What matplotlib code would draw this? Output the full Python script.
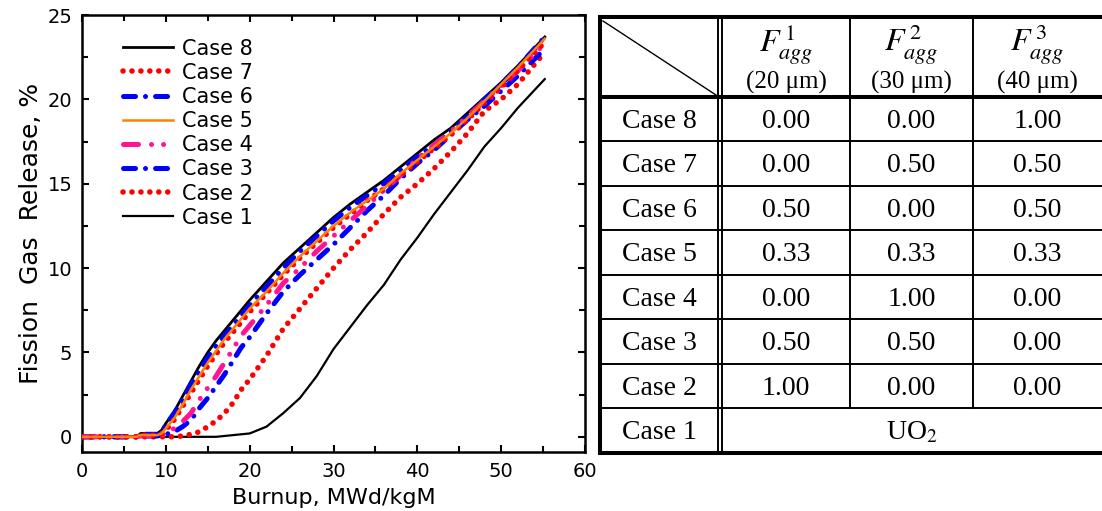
import matplotlib.pyplot as plt
from matplotlib.ticker import MultipleLocator

plt.rcParams['mathtext.fontset'] = 'stix'

# Burnup grid (MWd/kgM) shared by all cases
burnup = [0, 6.5, 7, 9, 9.5, 10, 11, 12, 13, 14, 15, 16, 17, 18, 19, 20,
          22, 24, 26, 28, 30, 32, 34, 36, 38, 40, 42, 44, 46, 48, 50, 52, 55.2]

# Fission gas release, %
case1 = [0, 0, 0, 0, 0, 0, 0, 0, 0, 0, 0, 0, 0.05, 0.1, 0.15, 0.2,
         0.6, 1.4, 2.3, 3.6, 5.2, 6.5, 7.8, 9.0, 10.5, 11.8, 13.2, 14.5, 15.8, 17.2, 18.3, 19.5, 21.2]
case2 = [0, 0, 0, 0, 0, 0, 0, 0.05, 0.15, 0.3, 0.6, 0.95, 1.4, 2.0, 2.8, 3.4,
         4.8, 6.4, 7.6, 8.8, 10.0, 11.1, 12.1, 13.2, 14.2, 15.0, 15.9, 16.9, 18.0, 19.3, 20.0, 20.9, 22.8]
case3 = [0, 0, 0.05, 0.05, 0.1, 0.15, 0.3, 0.6, 1.0, 1.7, 2.3, 3.0, 3.7, 4.5, 5.3, 5.9,
         7.3, 8.6, 9.6, 10.5, 11.4, 12.4, 13.4, 14.3, 15.3, 16.2, 17.0, 17.9, 18.8, 19.6, 20.5, 21.4, 23.0]
case4 = [0, 0, 0.05, 0.05, 0.1, 0.2, 0.5, 0.9, 1.4, 2.2, 2.9, 3.6, 4.4, 5.2, 6.0, 6.6,
         7.8, 9.1, 10.0, 11.0, 11.9, 12.8, 13.7, 14.6, 15.5, 16.5, 17.3, 18.1, 19.0, 19.9, 20.8, 21.7, 23.3]
case5 = [0, 0, 0.1, 0.1, 0.2, 0.5, 1.1, 1.9, 2.8, 3.6, 4.4, 5.1, 5.8, 6.4, 7.0, 7.6,
         8.6, 9.7, 10.7, 11.6, 12.5, 13.3, 14.0, 14.7, 15.6, 16.4, 17.2, 18.0, 18.9, 19.9, 20.9, 21.9, 23.6]
case6 = [0, 0, 0.15, 0.15, 0.3, 0.7, 1.4, 2.2, 3.1, 3.9, 4.7, 5.4, 6.0, 6.6, 7.2, 7.8,
         8.9, 10.0, 11.0, 11.9, 12.8, 13.6, 14.3, 15.0, 15.8, 16.6, 17.3, 18.1, 19.0, 20.0, 20.9, 21.9, 23.7]
case7 = [0, 0, 0.1, 0.1, 0.2, 0.4, 1.0, 1.8, 2.6, 3.4, 4.2, 4.9, 5.6, 6.2, 6.8, 7.4,
         8.5, 9.6, 10.6, 11.5, 12.4, 13.2, 14.0, 14.7, 15.5, 16.3, 17.1, 17.9, 18.8, 19.8, 20.7, 21.7, 23.4]
case8 = [0, 0, 0.2, 0.2, 0.4, 0.8, 1.5, 2.4, 3.3, 4.2, 5.0, 5.7, 6.3, 6.9, 7.5, 8.1,
         9.2, 10.3, 11.2, 12.1, 13.0, 13.8, 14.5, 15.2, 16.0, 16.8, 17.6, 18.3, 19.2, 20.1, 21.0, 22.0, 23.7]

# Table contents
row_labels = ["Case 8", "Case 7", "Case 6", "Case 5", "Case 4", "Case 3", "Case 2"]
f_agg1 = [0.00, 0.00, 0.50, 0.33, 0.00, 0.50, 1.00]
f_agg2 = [0.00, 0.50, 0.00, 0.33, 1.00, 0.50, 0.00]
f_agg3 = [1.00, 0.50, 0.50, 0.33, 0.00, 0.00, 0.00]
col_heads = [r"$F^{\,1}_{agg}$", r"$F^{\,2}_{agg}$", r"$F^{\,3}_{agg}$"]
col_sizes = ["(20 μm)", "(30 μm)", "(40 μm)"]

red_dots = dict(color='red', lw=4, ls=(0, (0.01, 1.6)), dash_capstyle='round')
blue_dd = dict(color='blue', lw=3.6, ls=(0, (2.4, 2, 0.01, 2)), dash_capstyle='round')
pink_ddd = dict(color='#ff1493', lw=3.6, ls=(0, (3, 2.6, 0.01, 2.4, 0.01, 2.6)), dash_capstyle='round')

fig = plt.figure(figsize=(11.02, 5.11), dpi=100)
ax = fig.add_axes([82/1102, 59/511, 503/1102, 437/511])

l1, = ax.plot(burnup, case1, color='black', lw=1.6, zorder=2)
l2, = ax.plot(burnup, case2, **red_dots, zorder=3)
l3, = ax.plot(burnup, case3, **blue_dd, zorder=3)
l4, = ax.plot(burnup, case4, **pink_ddd, zorder=4)
l8, = ax.plot(burnup, case8, color='black', lw=2, zorder=2)
l6, = ax.plot(burnup, case6, **blue_dd, zorder=3)
l7, = ax.plot(burnup, case7, **red_dots, zorder=4)
l5, = ax.plot(burnup, case5, color='#ff8000', lw=1.8, zorder=5)

ax.legend([l8, l7, l6, l5, l4, l3, l2, l1],
          ["Case 8", "Case 7", "Case 6", "Case 5", "Case 4", "Case 3", "Case 2", "Case 1"],
          loc='upper left', bbox_to_anchor=(0.06, 0.97), frameon=False, fontsize=15,
          borderpad=0, handlelength=2.4, handletextpad=0.45, labelspacing=0.2)

ax.set_xlim(0, 60)
ax.set_ylim(-0.9, 25)
ax.xaxis.set_major_locator(MultipleLocator(10))
ax.xaxis.set_minor_locator(MultipleLocator(5))
ax.yaxis.set_major_locator(MultipleLocator(5))
ax.yaxis.set_minor_locator(MultipleLocator(2.5))
ax.tick_params(which='both', direction='in', top=True, right=True, width=1.5, labelsize=14, pad=7)
ax.tick_params(which='major', length=5)
ax.tick_params(which='minor', length=4)
for s in ax.spines.values():
    s.set_linewidth(1.8)
ax.set_xlabel("Burnup, MWd/kgM", fontsize=16, labelpad=5)
ax.set_ylabel("Fission  Gas  Release, %", fontsize=18, labelpad=3)

# Table drawn in pixel coordinates over the whole figure
tax = fig.add_axes([0, 0, 1, 1])
tax.set_xlim(0, 1102)
tax.set_ylim(511, 0)
tax.axis('off')

x0, xc1a, xc1b, xc2, xc3, x4 = 600, 718, 722, 850, 973, 1104
top, head_bot, row_h = 17, 97, 44.5
bottom = head_bot + row_h * 8
thick, thin = 2.9, 1.4

tax.plot([x0, x4], [top, top], color='black', lw=thick, solid_capstyle='projecting')
tax.plot([x0, x4], [bottom, bottom], color='black', lw=thick, solid_capstyle='projecting')
tax.plot([x0, x0], [top, bottom], color='black', lw=thick, solid_capstyle='projecting')
tax.plot([x0, x4], [head_bot, head_bot], color='black', lw=thick)
for i in range(1, 8):
    y = head_bot + row_h * i
    tax.plot([x0, x4], [y, y], color='black', lw=thin)
tax.plot([xc1a, xc1a], [top, bottom], color='black', lw=thin)
tax.plot([xc1b, xc1b], [top, bottom], color='black', lw=thin)
tax.plot([xc2, xc2], [top, bottom - row_h], color='black', lw=thin)
tax.plot([xc3, xc3], [top, bottom - row_h], color='black', lw=thin)
tax.plot([x0 + 3, xc1a - 2], [top + 4, head_bot - 2], color='black', lw=1)

col_centers = [(xc1b + xc2) / 2, (xc2 + xc3) / 2, (xc3 + 1102) / 2]
serif = 'Liberation Serif'
for cx, h, s in zip(col_centers, col_heads, col_sizes):
    tax.text(cx, 45, h, fontsize=23, ha='center', va='center')
    tax.text(cx, 82, s, fontsize=18, ha='center', va='center', family=serif)

for i, lab in enumerate(row_labels):
    y = head_bot + row_h * (i + 0.5) + 2
    tax.text((x0 + xc1a) / 2, y, lab, fontsize=20, ha='center', va='center', family=serif)
    for cx, v in zip(col_centers, (f_agg1[i], f_agg2[i], f_agg3[i])):
        tax.text(cx, y, f"{v:.2f}", fontsize=20, ha='center', va='center', family=serif)

y_last = head_bot + row_h * 7.5 + 2
tax.text((x0 + xc1a) / 2, y_last, "Case 1", fontsize=20, ha='center', va='center', family=serif)
tax.text((xc1b + 1102) / 2, y_last, "UO$_2$", fontsize=20, ha='center', va='center', family=serif)

fig.savefig("out.png", dpi=100)
